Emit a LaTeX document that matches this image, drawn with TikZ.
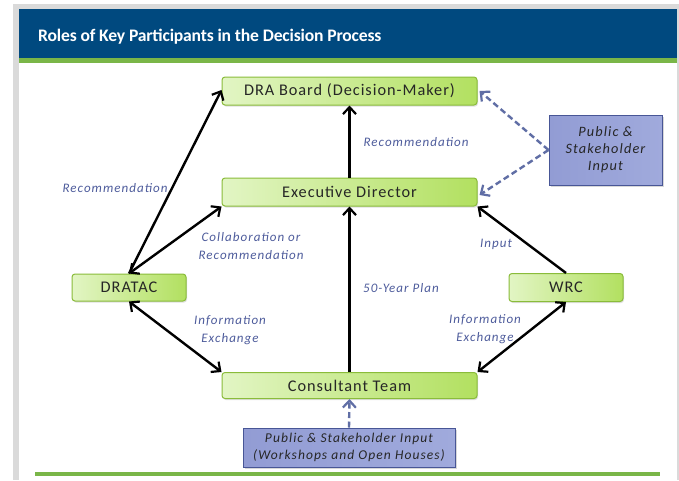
\documentclass[tikz,border=0pt]{standalone}
\usepackage{fontspec}
\setmainfont{Carlito}
\newfontfamily\boxfont[LetterSpace=6]{Carlito}
\newfontfamily\lblfont[LetterSpace=8]{Carlito}
\newfontfamily\titlefont[LetterSpace=-1]{Carlito}
\usetikzlibrary{arrows.meta,shadows}

\definecolor{barblue}{RGB}{0,73,127}
\definecolor{bargreen}{RGB}{122,182,72}
\definecolor{framegray}{RGB}{218,218,218}
\definecolor{nodeleft}{RGB}{226,245,196}
\definecolor{noderight}{RGB}{178,224,96}
\definecolor{nodeedge}{RGB}{138,188,58}
\definecolor{inleft}{RGB}{146,156,212}
\definecolor{inmid}{RGB}{198,203,235}
\definecolor{inright}{RGB}{160,170,220}
\definecolor{inedge}{RGB}{72,86,150}
\definecolor{lblblue}{RGB}{78,92,156}
\definecolor{dashblue}{RGB}{96,110,165}

\tikzset{
  role/.style={draw=nodeedge, line width=1pt, rounded corners=3pt,
    left color=nodeleft, right color=noderight,
    drop shadow={shadow xshift=1pt, shadow yshift=-1.5pt, opacity=0.25},
    minimum height=28pt, inner sep=0pt,
    font=\boxfont\fontsize{16.3}{18}\selectfont, text=black!85},
  inputbox/.style={draw=inedge, line width=1pt,
    left color=inleft, middle color=inmid, right color=inright,
    drop shadow={shadow xshift=1.5pt, shadow yshift=-1.5pt, opacity=0.3},
    inner sep=0pt, align=center, text=black!85},
  lbl/.style={align=center, text=lblblue, inner sep=0pt,
    font=\lblfont\itshape\fontsize{13}{18}\selectfont},
  flow/.style={line width=2.4pt, black,
    -{Straight Barb[length=7pt,width=13pt,line width=2.2pt]}},
  both/.style={flow, {Straight Barb[length=7pt,width=13pt,line width=2.2pt]}-{Straight Barb[length=7pt,width=13pt,line width=2.2pt]}},
  feed/.style={line width=2.4pt, dashblue, dash pattern=on 6pt off 3.5pt,
    -{Straight Barb[length=7pt,width=13pt,line width=2.2pt]}}
}

\begin{document}
\begin{tikzpicture}[x=1pt,y=-1pt]
  \useasboundingbox (0,0) rectangle (679,480);
  \fill[white] (0,0) rectangle (679,480);

  % page frame and title bar
  \fill[framegray] (13,3.5) rectangle (679,9);
  \fill[framegray] (13,3.5) rectangle (19,480);
  \fill[framegray] (677,3.5) rectangle (679,480);
  \fill[barblue] (19,9) rectangle (677,58);
  \fill[bargreen] (19,58) rectangle (677,63);
  \node[anchor=west, text=white, inner sep=0pt,
        font=\titlefont\bfseries\fontsize{17.6}{21}\selectfont] (title) at (38,37)
        {Roles of Key Participants in the Decision Process};
  \fill[bargreen] (35,472) rectangle (660,475.5);

  % participants
  \node[role, minimum width=255pt] (board) at (349.5,91) {DRA Board (Decision-Maker)};
  \node[role, minimum width=255pt] (ed) at (349.5,192) {Executive Director};
  \node[role, minimum width=114pt, minimum height=27pt] (dratac) at (129,287.5) {DRATAC};
  \node[role, minimum width=114pt] (wrc) at (566,287.5) {WRC};
  \node[role, minimum width=255pt, minimum height=26pt] (ct) at (349.5,385.5) {Consultant Team};

  % public input boxes
  \node[inputbox, minimum width=113pt, minimum height=70pt,
        font=\lblfont\itshape\fontsize{14.3}{17}\selectfont] (pub) at (605.5,150)
        {Public \&\\Stakeholder\\Input};
  \node[inputbox, minimum width=212pt, minimum height=39pt,
        font=\lblfont\itshape\fontsize{13.5}{17}\selectfont] (ws) at (349,447.5)
        {Public \& Stakeholder Input\\(Workshops and Open Houses)};

  % connectors
  \draw[flow] (ed.north) -- (board.south);
  \draw[flow] (ct.north) -- (ed.south);
  \draw[flow] (dratac.north) -- ([yshift=1pt]board.west);
  \draw[both] (dratac.north) -- (ed.south west);
  \draw[both] (dratac.south) -- (ct.north west);
  \draw[flow] (wrc.north) -- (ed.south east);
  \draw[both] (wrc.south) -- (ct.north east);
  \draw[feed] (pub.west) -- ([xshift=2pt]board.east);
  \draw[feed] (pub.west) -- ([xshift=2pt,yshift=-3pt]ed.east);
  \draw[feed] (ws.north) -- (ct.south);

  % connector labels
  \node[lbl] (l1) at (115,188) {Recommendation};
  \node[lbl] (l2) at (416,142) {Recommendation};
  \node[lbl] (l3) at (251,246) {Collaboration or\\Recommendation};
  \node[lbl] (l4) at (496,244) {Input};
  \node[lbl] (l5) at (401,288) {50-Year Plan};
  \node[lbl] (l6) at (230,330) {Information\\Exchange};
  \node[lbl] (l7) at (485,329) {Information\\Exchange};
\end{tikzpicture}
\end{document}
